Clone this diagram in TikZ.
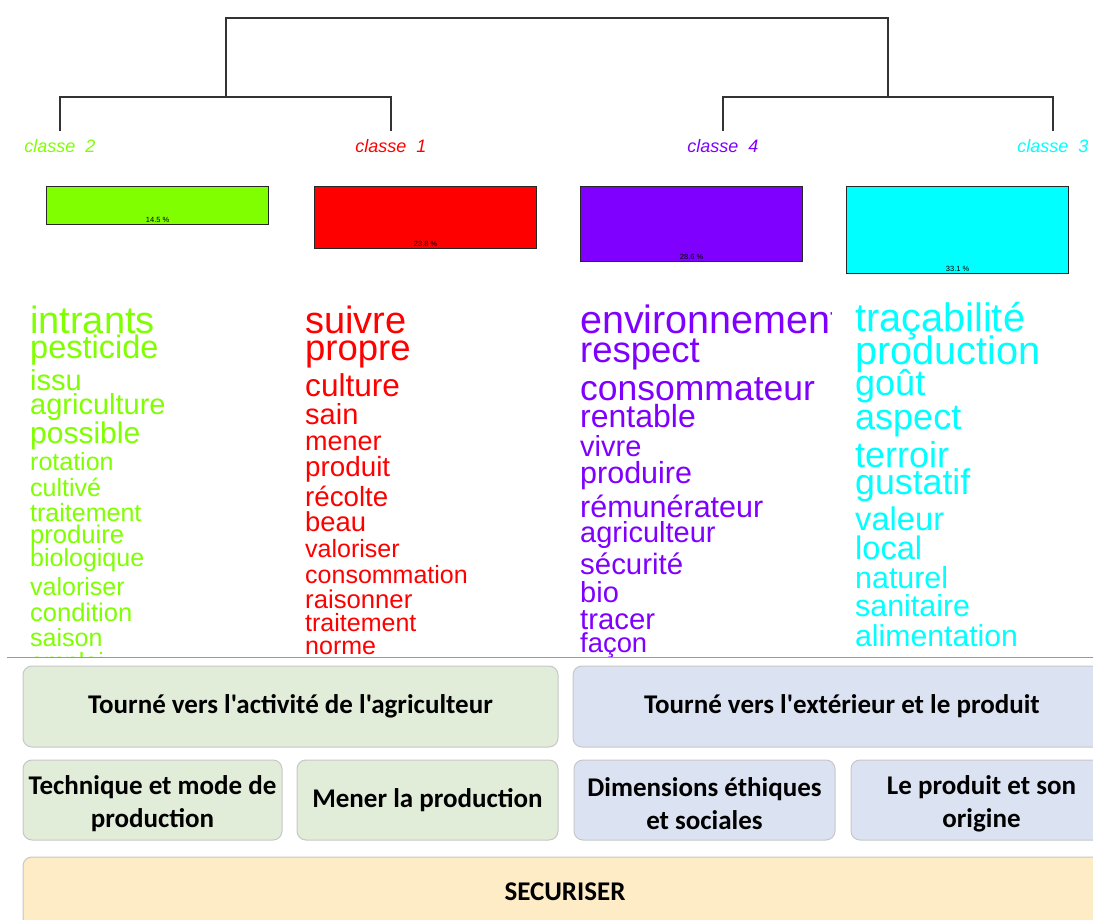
\documentclass[tikz,border=0pt]{standalone}
\usepackage{fontspec}
\setmainfont{Liberation Sans}
\newfontfamily\calib{Carlito}
\usetikzlibrary{positioning}
\definecolor{cgreen}{RGB}{128,255,0}
\definecolor{cred}{RGB}{255,0,0}
\definecolor{cpurple}{RGB}{128,0,255}
\definecolor{ccyan}{RGB}{0,255,255}
\definecolor{boxgreen}{RGB}{226,237,217}
\definecolor{boxblue}{RGB}{219,226,241}
\definecolor{boxyellow}{RGB}{253,236,198}
\newcommand{\wsize}[1]{\fontsize{#1}{#1}\selectfont}
\newcommand{\topstrut}{\rule{0pt}{26pt}}

\begin{document}
\begin{tikzpicture}[x=1pt, y=-1pt,
    dendro/.style={line width=1.6pt, black!80},
    classlab/.style={font=\itshape\wsize{18}, inner sep=0pt},
    barbox/.style={draw=black!85, line width=1.2pt, inner sep=0pt, anchor=north west, minimum width=222},
    pctlab/.style={font=\wsize{7.5}, inner sep=1pt, anchor=south},
    word/.style={anchor=base west, inner sep=0pt},
    theme/.style={draw=black!22, line width=1pt, rounded corners=9pt, font=\calib\bfseries\fontsize{27}{33}\selectfont, align=center, inner sep=0pt, minimum height=80},
    gbox/.style={theme, fill=boxgreen},
    bbox/.style={theme, fill=boxblue}]
  \clip (0,0) rectangle (1093,920);
  \fill[white] (0,0) rectangle (1093,920);
  % Classes
  \node[classlab, text=cgreen] (lab2) at (60,146) {classe\ \ 2};
  \node[classlab, text=cred] (lab1) at (391,146) {classe\ \ 1};
  \node[classlab, text=cpurple] (lab4) at (723,146) {classe\ \ 4};
  \node[classlab, text=ccyan] (lab3) at (1053,146) {classe\ \ 3};
  % Dendrogramme
  \coordinate (j21) at (226,97);
  \coordinate (j43) at (888,97);
  \coordinate (root) at (557,18);
  \draw[dendro] ([yshift=8pt]lab2.north) |- (j21) -| ([yshift=8pt]lab1.north);
  \draw[dendro] ([yshift=8pt]lab4.north) |- (j43) -| ([yshift=8pt]lab3.north);
  \draw[dendro] (j21) |- (root) -| (j43);
  % Barres des pourcentages
  \foreach \x/\h/\pct/\col/\n in {46/38/14.5/cgreen/2, 314/62/23.8/cred/1, 580/75/28.6/cpurple/4, 846/87/33.1/ccyan/3} {
    \node[barbox, fill=\col, minimum height=\h] (bar\n) at (\x,186) {};
    \node[pctlab] (pct\n) at ([yshift=1pt]bar\n.south) {\pct~\%};
  }
  % Mots de la classe 2
  \begin{scope}
    \clip (0,290) rectangle (290,656);
    \foreach \w/\s/\b [count=\i] in {intrants/38/333, pesticide/32.5/358, issu/29/390, agriculture/29/414, possible/30/443, rotation/25/470, cultivé/25/496, traitement/25/521, produire/25.6/543, biologique/25/566, valoriser/25/595, condition/25.5/621, saison/25/646, emploi/25/670}
      \node[word, text=cgreen, font=\wsize{\s}] (vert\i) at (30,\b) {\w};
  \end{scope}
  % Mots de la classe 1
  \begin{scope}
    \clip (290,290) rectangle (570,656);
    \foreach \w/\s/\b [count=\i] in {suivre/38/333, propre/36.5/360, culture/31.6/396, sain/29/424, mener/27/450, produit/27.8/476, récolte/27.7/506, beau/27.4/531, valoriser/25/557, consommation/25/583, raisonner/25.7/608, traitement/25/631, norme/25/654}
      \node[word, text=cred, font=\wsize{\s}] (rouge\i) at (305,\b) {\w};
  \end{scope}
  % Mots de la classe 4
  \begin{scope}
    \clip (570,290) rectangle (831,656);
    \foreach \w/\s/\b [count=\i] in {environnement/39.5/333, respect/36.5/362, consommateur/35.5/400, rentable/32/427, vivre/29/456, produire/30.5/483, rémunérateur/30.5/517, agriculteur/29/542, sécurité/29.4/574, bio/29/602, tracer/29.3/629, façon/27.4/652}
      \node[word, text=cpurple, font=\wsize{\s}] (violet\i) at (580,\b) {\w};
  \end{scope}
  % Mots de la classe 3
  \begin{scope}
    \clip (845,290) rectangle (1093,656);
    \foreach \w/\s/\b [count=\i] in {traçabilité/39.7/331, production/39.6/364, goût/36/395, aspect/36/429, terroir/36/467, gustatif/35.7/494, valeur/32.7/530, local/32.6/559, naturel/30.4/588, sanitaire/30.4/616, alimentation/30.2/646}
      \node[word, text=ccyan, font=\wsize{\s}] (cyan\i) at (855,\b) {\w};
  \end{scope}
  \draw[black!40, line width=1pt] (7,657) -- (1093,657);
  % Interpretation
  \node[gbox, minimum width=535, minimum height=81] (actif) at (290.5,706.5) {Tourné vers l'activité de l'agriculteur};
  \node[bbox, minimum width=538, minimum height=81, right=14pt of actif] (exter) {Tourné vers l'extérieur et le produit};
  \node[gbox, minimum width=259] (tech) at (152.5,800) {\topstrut Technique et mode de\\production};
  \node[gbox, minimum width=261, right=14pt of tech] (mener) {Mener la production};
  \node[bbox, minimum width=261, right=15pt of mener] (ethic) {\topstrut Dimensions éthiques\\et sociales};
  \node[bbox, minimum width=261, right=15pt of ethic] (orig) {\topstrut Le produit et son\\origine};
  \node[theme, fill=boxyellow, minimum width=1084, minimum height=70] (secur) at (565,892) {SECURISER};
\end{tikzpicture}
\end{document}
